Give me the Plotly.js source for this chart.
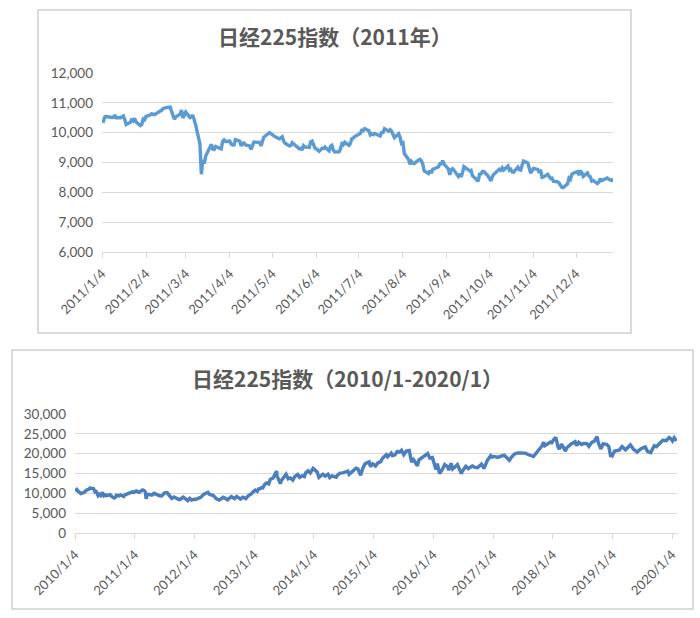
<!DOCTYPE html>
<html><head><meta charset="utf-8">
<script src="https://cdn.plot.ly/plotly-3.0.1.min.js"></script>
<style>html,body{margin:0;padding:0;background:#fff}</style>
</head><body><div id="chart" style="width:700px;height:618px"></div>
<script>
// ---- Chart 1: Nikkei 225, 2011 (daily-ish) ----
const dates2011 = ["2011-01-04","2011-01-05","2011-01-06","2011-01-07","2011-01-11","2011-01-12","2011-01-13","2011-01-14","2011-01-17","2011-01-18","2011-01-19","2011-01-20","2011-01-21","2011-01-24","2011-01-25","2011-01-26","2011-01-27","2011-01-28","2011-01-31",
"2011-02-01","2011-02-02","2011-02-03","2011-02-04","2011-02-07","2011-02-08","2011-02-09","2011-02-10","2011-02-14","2011-02-15","2011-02-16","2011-02-17","2011-02-18","2011-02-21","2011-02-22","2011-02-23","2011-02-24","2011-02-25","2011-02-28",
"2011-03-01","2011-03-02","2011-03-03","2011-03-04","2011-03-07","2011-03-08","2011-03-09","2011-03-10","2011-03-11","2011-03-14","2011-03-15","2011-03-16","2011-03-17","2011-03-18","2011-03-22","2011-03-23","2011-03-24","2011-03-25","2011-03-28","2011-03-29","2011-03-30","2011-03-31",
"2011-04-01","2011-04-04","2011-04-05","2011-04-06","2011-04-07","2011-04-08","2011-04-11","2011-04-12","2011-04-13","2011-04-14","2011-04-15","2011-04-18","2011-04-19","2011-04-20","2011-04-21","2011-04-22","2011-04-25","2011-04-26","2011-04-27","2011-04-28",
"2011-05-02","2011-05-06","2011-05-09","2011-05-10","2011-05-11","2011-05-12","2011-05-13","2011-05-16","2011-05-17","2011-05-18","2011-05-19","2011-05-20","2011-05-23","2011-05-24","2011-05-25","2011-05-26","2011-05-27","2011-05-30","2011-05-31",
"2011-06-01","2011-06-02","2011-06-03","2011-06-06","2011-06-07","2011-06-08","2011-06-09","2011-06-10","2011-06-13","2011-06-14","2011-06-15","2011-06-16","2011-06-17","2011-06-20","2011-06-21","2011-06-22","2011-06-23","2011-06-24","2011-06-27","2011-06-28","2011-06-29","2011-06-30",
"2011-07-01","2011-07-04","2011-07-05","2011-07-06","2011-07-07","2011-07-08","2011-07-11","2011-07-12","2011-07-13","2011-07-14","2011-07-15","2011-07-19","2011-07-20","2011-07-21","2011-07-22","2011-07-25","2011-07-26","2011-07-27","2011-07-28","2011-07-29",
"2011-08-01","2011-08-02","2011-08-03","2011-08-04","2011-08-05","2011-08-08","2011-08-09","2011-08-10","2011-08-11","2011-08-12","2011-08-15","2011-08-16","2011-08-17","2011-08-18","2011-08-19","2011-08-22","2011-08-23","2011-08-24","2011-08-25","2011-08-26","2011-08-29","2011-08-30","2011-08-31",
"2011-09-01","2011-09-02","2011-09-05","2011-09-06","2011-09-07","2011-09-08","2011-09-09","2011-09-12","2011-09-13","2011-09-14","2011-09-15","2011-09-16","2011-09-20","2011-09-21","2011-09-22","2011-09-26","2011-09-27","2011-09-28","2011-09-29","2011-09-30",
"2011-10-03","2011-10-04","2011-10-05","2011-10-06","2011-10-07","2011-10-11","2011-10-12","2011-10-13","2011-10-14","2011-10-17","2011-10-18","2011-10-19","2011-10-20","2011-10-21","2011-10-24","2011-10-25","2011-10-26","2011-10-27","2011-10-28","2011-10-31",
"2011-11-01","2011-11-02","2011-11-04","2011-11-07","2011-11-08","2011-11-09","2011-11-10","2011-11-11","2011-11-14","2011-11-15","2011-11-16","2011-11-17","2011-11-18","2011-11-21","2011-11-22","2011-11-24","2011-11-25","2011-11-28","2011-11-29","2011-11-30",
"2011-12-01","2011-12-02","2011-12-05","2011-12-06","2011-12-07","2011-12-08","2011-12-09","2011-12-12","2011-12-13","2011-12-14","2011-12-15","2011-12-16","2011-12-19","2011-12-20","2011-12-21","2011-12-22","2011-12-26","2011-12-27","2011-12-28","2011-12-29","2011-12-30"];
const values2011 = [10398,10380,10529,10541,10510,10512,10589,10499,10502,10519,10557,10437,10274,10345,10464,10401,10479,10360,10237,
10274,10457,10431,10543,10592,10635,10617,10605,10725,10746,10808,10836,10842,10857,10665,10579,10452,10526,10624,
10754,10492,10586,10693,10505,10525,10589,10434,10254,9620,8605,9093,8962,9206,9608,9449,9435,9536,9478,9459,9708,9755,
9708,9718,9615,9584,9590,9768,9719,9555,9641,9653,9591,9556,9441,9606,9685,9682,9671,9558,9691,9849,
10004,9859,9794,9818,9864,9716,9648,9558,9567,9662,9620,9607,9460,9477,9422,9562,9521,9504,9693,
9719,9555,9492,9380,9442,9467,9467,9514,9391,9547,9574,9411,9351,9354,9459,9629,9596,9678,9578,9648,9797,9816,
9868,9965,9972,10082,10071,10137,10069,9925,9963,9936,9974,9889,10005,10010,10132,10050,10097,10047,9901,9833,
9965,9844,9637,9659,9299,9097,8944,9038,8981,8963,9086,9107,9057,8943,8719,8628,8733,8639,8772,8797,8851,8953,8955,
9060,8950,8784,8590,8763,8793,8737,8535,8616,8518,8668,8864,8721,8741,8560,8374,8609,8615,8701,8700,
8545,8456,8382,8522,8605,8773,8738,8823,8747,8879,8742,8772,8682,8678,8843,8762,8748,8926,9050,8988,
8835,8640,8801,8767,8655,8755,8500,8514,8603,8541,8463,8479,8374,8348,8314,8165,8160,8287,8477,8434,
8597,8643,8695,8575,8722,8664,8536,8653,8552,8519,8377,8401,8296,8336,8459,8395,8479,8440,8423,8399,8455];
const tickDates2011 = ["2011-01-04","2011-02-04","2011-03-04","2011-04-04","2011-05-04","2011-06-04","2011-07-04","2011-08-04","2011-09-04","2011-10-04","2011-11-04","2011-12-04"];
const tickText2011 = ["2011/1/4","2011/2/4","2011/3/4","2011/4/4","2011/5/4","2011/6/4","2011/7/4","2011/8/4","2011/9/4","2011/10/4","2011/11/4","2011/12/4"];
const yTicks2011 = [6000,7000,8000,9000,10000,11000,12000];

// ---- Chart 2: Nikkei 225, 2010/1 - 2020/1 ----
const datesLong = [
"2010-01-04","2010-01-15","2010-01-22","2010-01-29","2010-02-09","2010-02-19","2010-03-01","2010-03-12","2010-03-19","2010-03-31","2010-04-05","2010-04-15","2010-04-27","2010-05-07","2010-05-14","2010-05-25","2010-05-31","2010-06-10","2010-06-21","2010-06-30","2010-07-09","2010-07-16","2010-07-30","2010-08-06","2010-08-16","2010-08-31","2010-09-08","2010-09-15","2010-09-30","2010-10-08","2010-10-20","2010-10-29","2010-11-05","2010-11-15","2010-11-30","2010-12-10","2010-12-21","2010-12-30",
"2011-01-13","2011-01-31","2011-02-17","2011-02-21","2011-03-04","2011-03-11","2011-03-15","2011-03-22","2011-03-31","2011-04-18","2011-05-02","2011-05-24","2011-06-06","2011-06-17","2011-07-08","2011-07-22","2011-08-05","2011-08-19","2011-09-01","2011-09-26","2011-10-05","2011-10-28","2011-11-25","2011-12-07","2011-12-19","2011-12-30",
"2012-01-13","2012-01-31","2012-02-14","2012-02-29","2012-03-14","2012-03-27","2012-04-06","2012-04-27","2012-05-09","2012-05-18","2012-06-04","2012-06-15","2012-06-29","2012-07-13","2012-07-25","2012-08-17","2012-08-31","2012-09-06","2012-09-19","2012-09-28","2012-10-12","2012-10-26","2012-11-14","2012-11-30","2012-12-14","2012-12-28",
"2013-01-11","2013-01-23","2013-01-31","2013-02-08","2013-02-19","2013-02-26","2013-03-11","2013-03-21","2013-03-29","2013-04-03","2013-04-12","2013-04-30","2013-05-15","2013-05-22","2013-05-23","2013-05-30","2013-06-07","2013-06-13","2013-06-19","2013-06-28","2013-07-18","2013-07-31","2013-08-13","2013-08-28","2013-09-09","2013-09-27","2013-10-09","2013-10-23","2013-11-07","2013-11-15","2013-11-29","2013-12-13","2013-12-30",
"2014-01-10","2014-01-24","2014-02-04","2014-02-14","2014-02-28","2014-03-14","2014-03-31","2014-04-11","2014-04-24","2014-05-09","2014-05-21","2014-05-30","2014-06-13","2014-06-30","2014-07-17","2014-07-31","2014-08-08","2014-08-29","2014-09-19","2014-09-30","2014-10-17","2014-10-31","2014-11-14","2014-12-08","2014-12-16","2014-12-30",
"2015-01-16","2015-01-30","2015-02-17","2015-02-27","2015-03-23","2015-03-31","2015-04-22","2015-04-30","2015-05-15","2015-05-29","2015-06-12","2015-06-24","2015-07-08","2015-07-23","2015-08-10","2015-08-25","2015-08-31","2015-09-14","2015-09-29","2015-10-09","2015-10-30","2015-11-18","2015-12-01","2015-12-14","2015-12-30",
"2016-01-12","2016-01-21","2016-01-29","2016-02-12","2016-02-29","2016-03-14","2016-03-31","2016-04-08","2016-04-22","2016-05-02","2016-05-31","2016-06-16","2016-06-24","2016-06-30","2016-07-21","2016-08-05","2016-08-31","2016-09-16","2016-09-30","2016-10-25","2016-11-09","2016-11-30","2016-12-21","2016-12-30",
"2017-01-13","2017-01-31","2017-02-14","2017-03-13","2017-03-31","2017-04-14","2017-04-28","2017-05-16","2017-06-02","2017-06-30","2017-07-20","2017-08-10","2017-08-29","2017-09-08","2017-09-29","2017-10-20","2017-10-31","2017-11-09","2017-11-16","2017-12-20","2017-12-29",
"2018-01-12","2018-01-23","2018-02-06","2018-02-14","2018-02-27","2018-03-23","2018-03-30","2018-04-27","2018-05-21","2018-05-30","2018-06-12","2018-06-29","2018-07-13","2018-07-31","2018-08-13","2018-08-31","2018-09-14","2018-09-28","2018-10-02","2018-10-11","2018-10-26","2018-11-08","2018-11-30","2018-12-13","2018-12-25","2018-12-28",
"2019-01-04","2019-01-18","2019-01-31","2019-02-15","2019-03-04","2019-03-25","2019-04-24","2019-05-14","2019-05-31","2019-06-04","2019-06-28","2019-07-24","2019-08-06","2019-08-26","2019-09-17","2019-09-30","2019-10-24","2019-11-08","2019-11-29","2019-12-17","2019-12-30",
"2020-01-06","2020-01-17","2020-01-27","2020-01-31"];
const valuesLong = [
10654,10982,10590,10198,9932,10123,10172,10751,10824,11089,11339,11273,11212,10364,10462,9459,9768,9439,10238,9382,9585,9408,9537,9642,9196,8824,9025,9516,9369,9589,9381,9202,9625,9827,9937,10212,10370,10228,
10589,10237,10836,10857,10693,10254,8605,9608,9755,9556,10004,9477,9380,9351,10137,10132,9299,8719,9060,8374,8382,9050,8160,8722,8296,8455,
8500,8802,9052,9723,10050,10255,9688,9520,9045,8611,8295,8721,9006,8724,8366,9162,8839,8680,9232,8870,8534,9000,8664,9446,9737,10395,
10801,10486,11138,11153,11468,11398,12349,12635,12397,12362,13485,13860,15096,15627,14484,13589,12877,12445,13245,13677,14808,13668,13868,13338,14205,14760,14038,14426,14228,15165,15662,15152,16291,
15912,15391,14008,14313,14841,14327,14827,13960,14404,14199,14042,14632,15097,15162,15370,15621,14778,15425,16321,16173,14532,16413,17490,17935,16755,17450,
16864,17674,18000,18797,19754,19206,20133,19520,19732,20563,20407,20868,19737,20683,20808,17806,18890,17965,16930,18438,19083,19649,20012,18883,19033,
17218,16017,17518,14952,16026,17233,16758,15821,17572,16147,17234,15434,14952,15575,16810,16254,16887,16519,16449,17365,16251,18308,19494,19114,
19287,19041,19238,19633,18909,18335,19196,19919,20177,20033,20144,19729,19362,19274,20356,21457,22011,22868,22028,22891,22764,
23653,24124,21610,21154,22389,20617,21454,22467,23002,22018,22878,22304,22597,22553,21857,22865,23094,24120,24270,22590,21184,22486,22351,21816,19155,20014,
19561,20666,20773,20900,21822,20977,22200,21067,20601,20408,21275,21709,20585,20261,22001,21755,22750,23391,23293,24066,23656,
23204,24041,23343,23205];
const tickDatesLong = ["2010-01-04","2011-01-04","2012-01-04","2013-01-04","2014-01-04","2015-01-04","2016-01-04","2017-01-04","2018-01-04","2019-01-04","2020-01-04"];
const tickTextLong = ["2010/1/4","2011/1/4","2012/1/4","2013/1/4","2014/1/4","2015/1/4","2016/1/4","2017/1/4","2018/1/4","2019/1/4","2020/1/4"];
const yTicksLong = [0,5000,10000,15000,20000,25000,30000];

const titles = ["日经225指数（2011年）","日经225指数（2010/1-2020/1）"];

const W = 700, H = 618;
const px = v => v / W, py = v => 1 - v / H;
const gray = "#595959", grid = "#d9d9d9";
const latin = "Lato, 'Noto Sans CJK SC', sans-serif";

const traces = [
  {x: dates2011, y: values2011, type: "scatter", mode: "lines", xaxis: "x", yaxis: "y",
   line: {color: "#5b9bd5", width: 3.4}, hoverinfo: "x+y"},
  {x: datesLong, y: valuesLong, type: "scatter", mode: "lines", xaxis: "x2", yaxis: "y2",
   line: {color: "#4a7ebf", width: 3.4}, hoverinfo: "x+y"}
];

function xAxis(domain, range, tv, tt, anchor) {
  return {type: "date", domain: domain, range: range, anchor: anchor,
    tickmode: "array", tickvals: tv, ticktext: tt, tickangle: -45,
    tickfont: {family: latin, size: 13, color: gray}, ticklabelstandoff: 3,
    showgrid: false, zeroline: false, showline: true, linecolor: grid, linewidth: 1,
    ticks: "outside", ticklen: 5, tickcolor: grid, fixedrange: true};
}
function yAxis(domain, range, tv, anchor) {
  return {domain: domain, range: range, anchor: anchor, tickmode: "array", tickvals: tv,
    tickformat: ",d", tickfont: {family: latin, size: 13.5, color: gray},
    showgrid: true, gridcolor: grid, gridwidth: 1, zeroline: false, showline: false,
    ticks: "", ticklabelstandoff: 8, fixedrange: true};
}

const layout = {
  width: W, height: H, margin: {l: 0, r: 0, t: 0, b: 0},
  paper_bgcolor: "#ffffff", plot_bgcolor: "rgba(0,0,0,0)", showlegend: false,
  xaxis: xAxis([px(102), px(613)], ["2011-01-04", "2011-12-30"], tickDates2011, tickText2011, "y"),
  yaxis: yAxis([py(252), py(73)], [6000, 12000], yTicks2011, "x"),
  xaxis2: xAxis([px(75), px(677)], ["2010-01-04", "2020-02-03"], tickDatesLong, tickTextLong, "y2"),
  yaxis2: yAxis([py(533), py(414)], [0, 30000], yTicksLong, "x2"),
  shapes: [
    {type: "rect", xref: "paper", yref: "paper", x0: px(38), x1: px(631), y0: py(333), y1: py(10),
     line: {color: "#d0d0d0", width: 1.5}, layer: "below"},
    {type: "rect", xref: "paper", yref: "paper", x0: px(12), x1: px(693), y0: py(609), y1: py(350),
     line: {color: "#d0d0d0", width: 1.5}, layer: "below"}
  ],
  annotations: [
    {text: "<b>" + titles[0] + "</b>", xref: "paper", yref: "paper", x: px(335), y: py(36),
     xanchor: "center", yanchor: "middle", showarrow: false,
     font: {family: "'Noto Sans CJK SC', sans-serif", size: 21, color: gray}},
    {text: "<b>" + titles[1] + "</b>", xref: "paper", yref: "paper", x: px(347), y: py(378),
     xanchor: "center", yanchor: "middle", showarrow: false,
     font: {family: "'Noto Sans CJK SC', sans-serif", size: 21, color: gray}}
  ]
};

Plotly.newPlot("chart", traces, layout, {displayModeBar: false, staticPlot: true});
</script></body></html>
